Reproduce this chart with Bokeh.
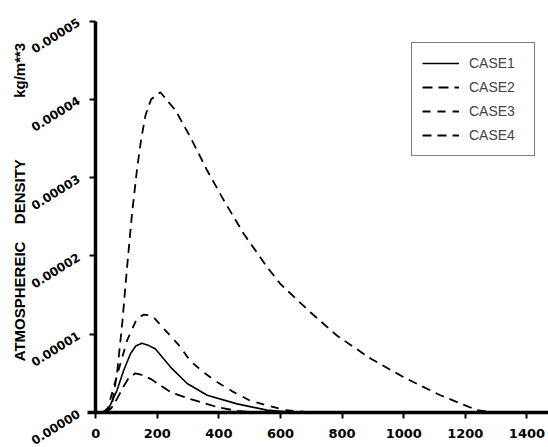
import math
from bokeh.plotting import figure
from bokeh.models import Range1d, FixedTicker, PrintfTickFormatter, Legend, LegendItem, Label
from bokeh.embed import file_html
from bokeh.resources import INLINE

# Data (y in units of 1e-5 kg/m**3)
case1_x = [0, 20, 42, 69, 91, 113, 130, 150, 170, 194, 243, 297, 362, 459, 556, 650]
case1_y = [0, 0, 0.05, 0.28, 0.54, 0.75, 0.85, 0.885, 0.86, 0.81, 0.58, 0.37, 0.22, 0.11, 0.03, 0]

case2_x = [30, 50, 70, 90, 107, 129, 150, 178, 243, 308, 394, 459, 540]
case2_y = [0, 0.05, 0.18, 0.33, 0.44, 0.50, 0.48, 0.43, 0.26, 0.17, 0.07, 0.02, 0]

case3_x = [25, 40, 58, 80, 102, 134, 156, 183, 226, 270, 307, 351, 394, 448, 502, 556, 616, 700]
case3_y = [0, 0.06, 0.32, 0.62, 0.92, 1.20, 1.25, 1.24, 1.05, 0.86, 0.66, 0.51, 0.39, 0.26, 0.15, 0.09, 0.03, 0]

case4_x = [25, 40, 53, 69, 86, 102, 118, 134, 148, 162, 180, 210, 259, 307, 362, 416, 481, 556,
           600, 697, 784, 892, 1000, 1119, 1238, 1290]
case4_y = [0, 0.02, 0.11, 0.49, 1.13, 1.86, 2.54, 3.10, 3.50, 3.80, 4.00, 4.09, 3.86, 3.52, 3.09,
           2.71, 2.28, 1.86, 1.64, 1.28, 0.98, 0.69, 0.45, 0.22, 0.03, 0]

x_ticks = [0, 200, 400, 600, 800, 1000, 1200, 1400]
y_ticks = [0, 1e-5, 2e-5, 3e-5, 4e-5, 5e-5]
labels = ["CASE1", "CASE2", "CASE3", "CASE4"]
title_parts = ["ATMOSPHEREIC", "DENSITY", "kg/m**3"]
title_y = [1.418e-5, 2.82e-5, 4.37e-5]

scale = 1e-5

p = figure(width=548, height=447, output_backend="svg", toolbar_location=None,
           x_range=Range1d(-309, 1470), y_range=Range1d(-0.447e-5, 5.262e-5),
           min_border_left=0, min_border_right=0, min_border_top=0, min_border_bottom=0)
p.outline_line_color = None
p.grid.visible = False
p.background_fill_color = "white"

tick_font = "DejaVu Sans"
for ax in (p.xaxis[0], p.yaxis[0]):
    ax.fixed_location = 0
    ax.axis_line_width = 3.5
    ax.axis_line_color = "black"
    ax.major_tick_line_width = 2
    ax.major_tick_line_color = "black"
    ax.major_tick_in = 0
    ax.major_tick_out = 6
    ax.minor_tick_line_color = None
    ax.major_label_text_font = tick_font
    ax.major_label_text_font_style = "bold"
    ax.major_label_text_color = "black"

p.xaxis.bounds = (-25, 1470)
p.yaxis.bounds = (0, 5e-5)
p.xaxis.major_label_text_font_size = "13px"
p.xaxis.major_label_standoff = 10
p.yaxis.major_label_text_font_size = "12px"

p.xaxis.ticker = FixedTicker(ticks=x_ticks)
p.yaxis.ticker = FixedTicker(ticks=y_ticks)
p.yaxis.formatter = PrintfTickFormatter(format="%.5f")
p.yaxis.major_label_orientation = math.radians(32)
p.yaxis.major_label_standoff = 11

for txt, ty in zip(title_parts, title_y):
    p.add_layout(Label(x=-246, y=ty, text=txt, angle=math.pi / 2,
                       text_align="center", text_baseline="middle",
                       text_font="Liberation Sans",
                       text_font_style="bold", text_font_size="15px", text_color="black"))

def sc(v):
    return [a * scale for a in v]

r1 = p.line(case1_x, sc(case1_y), line_color="black", line_width=1.6)
r2 = p.line(case2_x, sc(case2_y), line_color="black", line_width=1.8, line_dash="10 6")
r3 = p.line(case3_x, sc(case3_y), line_color="black", line_width=1.8, line_dash="8 7")
r4 = p.line(case4_x, sc(case4_y), line_color="black", line_width=1.8, line_dash="9 6")

legend = Legend(items=[LegendItem(label=labels[0], renderers=[r1]),
                       LegendItem(label=labels[1], renderers=[r2]),
                       LegendItem(label=labels[2], renderers=[r3]),
                       LegendItem(label=labels[3], renderers=[r4])],
                location=(411, 291))
legend.border_line_color = "black"
legend.border_line_width = 1.5
legend.background_fill_alpha = 1
legend.label_text_font = "Liberation Sans"
legend.label_text_font_size = "14px"
legend.glyph_width = 37
legend.glyph_height = 20
legend.spacing = 4
legend.padding = 10
legend.margin = 0
legend.label_standoff = 10
legend.label_width = 55
p.add_layout(legend, "center")

open("out.html", "w").write(file_html(p, INLINE))
